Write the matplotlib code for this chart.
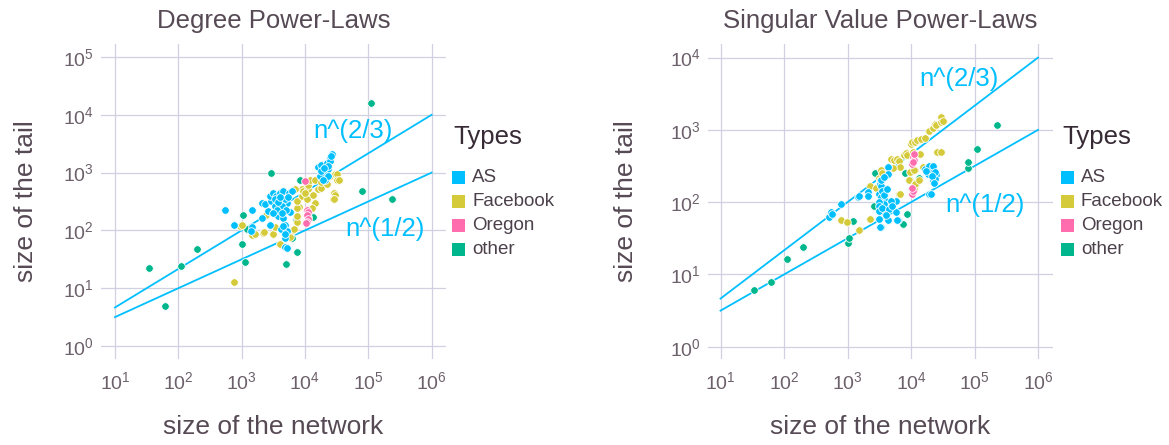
import matplotlib
matplotlib.use("Agg")
import matplotlib.pyplot as plt
import numpy as np
from matplotlib.patches import Rectangle
from matplotlib.ticker import FixedLocator, FuncFormatter

plt.rcParams['font.family'] = ['Liberation Sans', 'DejaVu Sans']
plt.rcParams['mathtext.fontset'] = 'custom'
plt.rcParams['mathtext.rm'] = 'Liberation Sans'

# ---------------- data (log10 of network size, log10 of tail size) -------------
types = ["AS", "Facebook", "Oregon", "other"]
type_colors = ["#00BFFF", "#D4CA3A", "#FF6DAE", "#00B78D"]

# Degree power-laws panel
deg_other_logn = [1.53, 1.79, 2.04, 2.29, 3.00, 3.02, 3.05, 3.08, 3.46, 3.70, 3.80, 3.87, 3.86, 3.92, 4.12, 4.90, 5.05, 5.37]
deg_other_logt = [1.35, 0.70, 1.38, 1.68, 1.76, 2.27, 1.45, 2.02, 2.99, 1.42, 1.87, 1.63, 2.19, 2.88, 2.23, 2.69, 4.21, 2.54]

deg_oregon_logn = [4.00, 4.03, 4.04, 4.03, 4.04, 4.03, 4.02]
deg_oregon_logt = [2.86, 2.36, 2.31, 2.26, 2.20, 2.15, 2.12]

deg_fb_logn = [2.88, 2.97, 3.00, 3.16, 3.21, 3.34, 3.35, 3.49, 3.52, 3.38, 3.45, 3.61, 3.60, 3.76, 3.81, 3.83,
               3.87, 3.88, 3.88, 3.90, 3.88, 3.88, 3.96, 3.96, 3.97, 4.03, 4.05, 4.05, 4.08, 4.00, 3.84, 4.12,
               4.16, 4.11, 4.05, 4.16, 4.21, 4.26, 4.26, 4.34, 4.39, 4.47, 4.50, 4.51, 4.53, 4.46, 4.48, 4.45, 4.46]
deg_fb_logt = [1.11, 2.08, 2.09, 1.92, 1.93, 1.96, 1.98, 1.94, 2.06, 2.26, 2.31, 1.76, 1.77, 1.88, 2.00, 2.02,
               2.21, 2.14, 2.25, 2.40, 2.39, 2.51, 2.60, 2.71, 2.69, 2.54, 2.72, 2.79, 2.87, 2.65, 2.71, 2.62,
               2.48, 2.39, 2.24, 2.88, 2.71, 2.74, 2.83, 2.80, 2.94, 2.98, 2.97, 2.88, 2.88, 2.65, 2.61, 2.54, 2.55]

deg_as_logn = [2.74, 2.88, 3.17, 3.16, 3.15, 3.32, 3.32, 3.45,
               3.42, 3.37, 3.47, 3.45, 3.50, 3.55, 3.61, 3.66, 3.74, 3.79, 3.53, 3.63, 3.71, 3.69, 3.58, 3.66,
               3.76, 3.68, 3.62, 3.71, 3.68, 3.68, 3.71, 3.65, 3.69, 3.63, 3.52, 3.58, 3.60, 3.56, 3.50, 3.70,
               3.73, 3.64,
               4.21, 4.26, 4.34, 4.39, 4.42, 4.37, 4.29, 4.24, 4.32, 4.37, 4.25, 4.39, 4.29, 4.41, 4.36, 4.30]
deg_as_logt = [2.35, 2.09, 2.35, 2.06, 1.99, 2.47, 2.22, 2.10,
               2.34, 2.45, 2.51, 2.60, 2.65, 2.60, 2.65, 2.68, 2.65, 2.68, 2.42, 2.45, 2.48, 2.54, 2.25, 2.22,
               2.31, 2.10, 2.02, 1.99, 1.87, 1.72, 1.70, 2.08, 1.93, 2.42, 2.55, 2.50, 2.58, 2.36, 2.30, 2.35,
               2.58, 2.30,
               3.09, 3.14, 3.17, 3.26, 3.32, 3.06, 3.00, 2.94, 2.88, 2.94, 3.03, 3.20, 2.87, 3.28, 3.12, 3.08]

# Singular value power-laws panel
sv_other_logn = [1.53, 1.79, 2.05, 2.30, 3.00, 3.02, 3.09, 3.43, 3.42, 3.91, 3.93, 3.87, 4.12, 4.89, 4.90, 5.04, 5.36]
sv_other_logt = [0.79, 0.90, 1.21, 1.38, 1.44, 1.50, 1.74, 2.40, 1.95, 2.40, 1.83, 1.70, 2.34, 2.47, 2.55, 2.73, 3.07]

sv_oregon_logn = [4.03, 4.04, 4.02, 4.04, 4.03, 4.02, 4.03, 4.02]
sv_oregon_logt = [2.62, 2.58, 2.53, 2.66, 2.56, 2.12, 2.16, 2.20]

sv_fb_logn = [2.90, 2.99, 3.18, 3.36, 3.36, 3.49, 3.52, 3.55, 3.68, 3.73, 3.78, 3.81, 3.83, 3.89, 3.92, 3.94,
              4.00, 4.02, 4.07, 4.09, 4.15, 4.22, 4.29, 4.34, 4.38, 4.40, 4.48, 4.48, 4.51, 4.14, 4.03, 4.41,
              4.48, 3.99, 3.97, 4.04, 4.02, 4.07, 4.07, 4.06, 3.99, 4.04, 4.19, 3.81, 3.83, 3.71, 3.51, 3.63,
              3.45, 4.12]
sv_fb_logt = [1.76, 1.72, 1.62, 1.77, 2.23, 2.33, 2.44, 2.40, 2.60, 2.59, 2.60, 2.57, 2.48, 2.65, 2.68, 2.65,
              2.81, 2.83, 2.83, 2.86, 2.87, 2.89, 2.99, 3.03, 3.08, 3.07, 3.18, 3.11, 3.12, 2.66, 2.69, 2.69,
              2.69, 2.30, 2.30, 2.18, 2.18, 2.27, 2.25, 2.44, 2.42, 2.44, 2.48, 2.11, 2.12, 2.47, 2.30, 2.49,
              2.20, 2.30]

sv_as_logn = [2.71, 2.74, 2.75, 2.89, 3.17, 3.18, 3.33, 3.32, 3.49, 3.51, 3.52, 3.63, 3.64, 3.52, 3.60, 3.68,
              3.76, 3.69, 3.57, 3.49, 3.49, 3.57, 3.49, 3.77, 3.79, 3.63, 3.78, 3.49, 3.52, 3.51, 3.55, 3.58,
              3.62, 3.55, 3.65, 3.70, 3.60, 3.53, 3.58,
              4.22, 4.26, 4.30, 4.35, 4.40, 4.35, 4.31, 4.28, 4.34, 4.37, 4.38, 4.33, 4.24, 4.29, 4.31, 4.36]
sv_as_logt = [1.79, 1.86, 1.83, 1.98, 2.07, 2.08, 2.14, 2.09, 2.11, 2.25, 2.23, 2.49, 2.39, 2.07, 2.02, 2.00,
              2.02, 2.02, 1.97, 2.00, 1.95, 1.86, 1.88, 1.87, 1.75, 1.75, 1.75, 1.77, 1.66, 1.65, 2.15, 2.10,
              2.18, 1.92, 1.90, 1.95, 1.82, 2.30, 2.35,
              2.46, 2.39, 2.47, 2.46, 2.38, 2.31, 2.44, 2.50, 2.50, 2.32, 2.42, 2.36, 2.43, 2.11, 2.11, 2.26]

# reference power-law lines n^(2/3) and n^(1/2), endpoints at n = 10 and n = 10^6
ref_n = [1e1, 1e6]
ref_23 = [4.6416, 1e4]
ref_12 = [3.1623, 1e3]

x_ticks = [1e1, 1e2, 1e3, 1e4, 1e5, 1e6]
deg_y_ticks = [1e0, 1e1, 1e2, 1e3, 1e4, 1e5]
sv_y_ticks = [1e0, 1e1, 1e2, 1e3, 1e4]

panels = [
    dict(title="Degree Power-Laws",
         data=[(deg_other_logn, deg_other_logt, 3), (deg_fb_logn, deg_fb_logt, 1),
               (deg_oregon_logn, deg_oregon_logt, 2), (deg_as_logn, deg_as_logt, 0)],
         yticks=deg_y_ticks, left=101, xlim=(0.779, 6.227), ylim=(-0.225, 5.225),
         lab23=(4.13, 3.72), lab12=(4.63, 2.02), ylab_x=26, leg_x=452),
    dict(title="Singular Value Power-Laws",
         data=[(sv_other_logn, sv_other_logt, 3), (sv_fb_logn, sv_fb_logt, 1),
               (sv_oregon_logn, sv_oregon_logt, 2), (sv_as_logn, sv_as_logt, 0)],
         yticks=sv_y_ticks, left=708, xlim=(0.803, 6.236), ylim=(-0.169, 4.188),
         lab23=(4.13, 3.70), lab12=(4.54, 1.96), ylab_x=626, leg_x=1061),
]

W, H = 1169, 445
fig = plt.figure(figsize=(W / 100, H / 100), dpi=100)

TXT = "#564a55"
TICK = "#6c606b"
GRID = "#D0D0E0"
LINE = "#00BFFF"

fmt = FuncFormatter(lambda v, p: r"$\mathregular{10^{%d}}$" % int(round(np.log10(v))))

top, bottom = 44, 359
for P in panels:
    ax = fig.add_axes([P["left"] / W, (H - bottom) / H, 345 / W, (bottom - top) / H])
    ax.set_xscale("log")
    ax.set_yscale("log")
    ax.set_xlim(10 ** P["xlim"][0], 10 ** P["xlim"][1])
    ax.set_ylim(10 ** P["ylim"][0], 10 ** P["ylim"][1])
    ax.xaxis.set_major_locator(FixedLocator(x_ticks))
    ax.yaxis.set_major_locator(FixedLocator(P["yticks"]))
    ax.xaxis.set_minor_locator(FixedLocator([]))
    ax.yaxis.set_minor_locator(FixedLocator([]))
    ax.xaxis.set_major_formatter(fmt)
    ax.yaxis.set_major_formatter(fmt)
    ax.tick_params(length=0, labelsize=14, labelcolor=TICK)
    ax.tick_params(axis="x", pad=9)
    ax.tick_params(axis="y", pad=5)
    for s in ax.spines.values():
        s.set_visible(False)
    ax.grid(True, color=GRID, lw=0.9)
    ax.set_axisbelow(True)

    ax.plot(ref_n, ref_23, color=LINE, lw=1.3, zorder=2)
    ax.plot(ref_n, ref_12, color=LINE, lw=1.3, zorder=2)

    for ln, lt, ci in P["data"]:
        ax.scatter(np.power(10.0, ln), np.power(10.0, lt), s=30, color=type_colors[ci],
                   edgecolors="white", linewidths=0.6, zorder=3)

    ax.text(10 ** P["lab23"][0], 10 ** P["lab23"][1], "n^(2/3)", color=LINE, fontsize=18.5,
            ha="left", va="center", zorder=4)
    ax.text(10 ** P["lab12"][0], 10 ** P["lab12"][1], "n^(1/2)", color=LINE, fontsize=18.5,
            ha="left", va="center", zorder=4)

    cx = (P["left"] + 172.5) / W
    fig.text(cx, (H - 28) / H, P["title"], ha="center", va="baseline", fontsize=18.5, color=TXT)
    fig.text(cx, (H - 427) / H, "size of the network", ha="center", va="center", fontsize=19, color=TXT)
    fig.text(P["ylab_x"] / W, (H - 201) / H, "size of the tail", ha="center", va="center",
             rotation=90, fontsize=19, color=TXT)

    # legend
    lx = P["leg_x"]
    fig.text((lx + 1) / W, (H - 137) / H, "Types", ha="left", va="center", fontsize=18.5, color="#362a35")
    for i, (t, c) in enumerate(zip(types, type_colors)):
        cy = 177 + i * 24.3
        fig.add_artist(Rectangle((lx / W, (H - cy - 6.5) / H), 13 / W, 13 / H,
                                 transform=fig.transFigure, color=c, lw=0))
        fig.text((lx + 20) / W, (H - cy) / H, t, ha="left", va="center", fontsize=13.5, color="#4c404b")

fig.savefig("out.png", dpi=100)
